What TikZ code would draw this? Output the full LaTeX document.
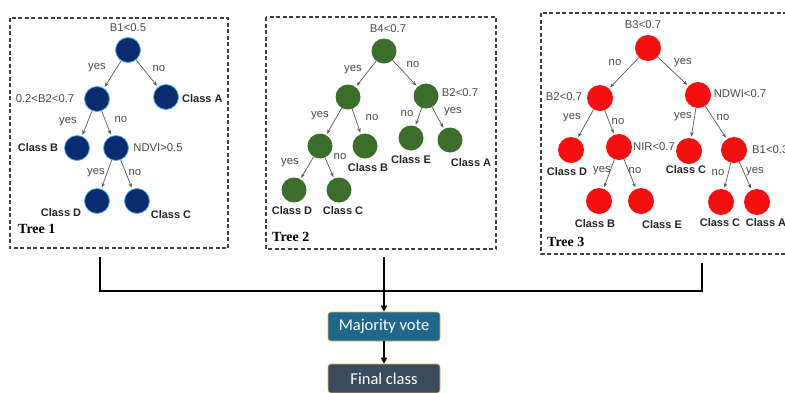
\documentclass[tikz,border=0pt]{standalone}
\usepackage{fontspec}
\setmainfont{Liberation Sans}
\newfontfamily\serifbold{Liberation Serif}
\newfontfamily\boxfont{Carlito}
\usetikzlibrary{arrows.meta}
\definecolor{navy}{HTML}{0A2C6E}
\definecolor{navyrim}{HTML}{4FB0F0}
\definecolor{tgreen}{HTML}{3B6E2B}
\definecolor{tred}{HTML}{F21010}
\definecolor{condgray}{HTML}{4A4A4A}
\definecolor{classdark}{HTML}{262626}
\definecolor{mvblue}{HTML}{1F688C}
\definecolor{fcslate}{HTML}{394B5F}
\definecolor{rimgold}{HTML}{E8B84A}
\tikzset{
  x=1pt, y=-1pt,
  tnode/.style={circle, inner sep=0pt},
  bluenode/.style={tnode, minimum size=25pt, fill=navy, draw=navyrim, line width=0.8pt},
  greennode/.style={tnode, minimum size=25pt, fill=tgreen},
  rednode/.style={tnode, minimum size=26pt, fill=tred},
  cond/.style={text=condgray, inner sep=0pt, font=\fontsize{11.3}{13}\selectfont},
  yn/.style={text=condgray, inner sep=0pt, font=\fontsize{11.3}{13}\selectfont},
  cls/.style={text=classdark, inner sep=0pt, font=\fontsize{11}{13}\selectfont\bfseries},
  treetitle/.style={inner sep=0pt, anchor=west, font=\fontsize{14}{16}\selectfont\serifbold\bfseries},
  edge/.style={draw=black!65, line width=0.7pt, -{Stealth[length=4.5pt,width=3.5pt]}, shorten >=1.5pt},
  treebox/.style={draw=black!75, dashed, dash pattern=on 4pt off 2.5pt, line width=1.1pt},
  bus/.style={draw=black, line width=1.6pt},
  busarrow/.style={bus, -{Triangle[length=6pt,width=6pt]}},
  stepbox/.style={rounded corners=3pt, draw=rimgold, line width=0.6pt, minimum width=112pt, minimum height=29pt, text=white, inner sep=0pt, font=\fontsize{16.5}{18}\selectfont\boxfont},
}
\begin{document}
\begin{tikzpicture}
\useasboundingbox (0,0) rectangle (785,392);
\clip (0,0) rectangle (785,392);
\fill[white] (0,0) rectangle (785,392);

% ---------- boxes ----------
\draw[treebox] (10,18) rectangle (228,248);
\draw[treebox] (266,17) rectangle (496,249);
\draw[treebox] (541,13) rectangle (800,254);

% ---------- Tree 1 ----------
\node[bluenode] (n1r) at (128,50) {};
\node[bluenode] (n1a) at (97,99) {};
\node[bluenode] (n1b) at (166,97) {};
\node[bluenode] (n1c) at (77,148) {};
\node[bluenode] (n1d) at (116,148) {};
\node[bluenode] (n1e) at (97,201) {};
\node[bluenode] (n1f) at (137,201) {};
\node[cond] (l1r) at (128,28) {B1<0.5};
\node[cond] (l1a) at (45,99) {0.2<B2<0.7};
\node[cls, anchor=west] (l1b) at (182,99) {Class A};
\node[cls] (l1c) at (38,148) {Class B};
\node[cond] (l1d) at (158,148) {NDVI>0.5};
\node[cls] (l1e) at (61,213) {Class D};
\node[cls] (l1f) at (171,215) {Class C};
\draw[edge] (n1r) -- (n1a);
\draw[edge] (n1r) -- (n1b);
\draw[edge] (n1a) -- (n1c);
\draw[edge] (n1a) -- (n1d);
\draw[edge] (n1d) -- (n1e);
\draw[edge] (n1d) -- (n1f);
\node[yn] (y1a) at (97,68) {yes};
\node[yn] (y1b) at (159,69) {no};
\node[yn] (y1c) at (68,122) {yes};
\node[yn] (y1d) at (121,120) {no};
\node[yn] (y1e) at (96,173) {yes};
\node[yn] (y1f) at (135,173) {no};
\node[treetitle] (t1) at (18,229) {Tree 1};

% ---------- Tree 2 ----------
\node[greennode] (n2r) at (384,51) {};
\node[greennode] (n2a) at (348,97) {};
\node[greennode] (n2b) at (426,96) {};
\node[greennode] (n2c) at (320,146) {};
\node[greennode] (n2d) at (365,146) {};
\node[greennode] (n2e) at (411,138) {};
\node[greennode] (n2f) at (450,140) {};
\node[greennode] (n2g) at (294,190) {};
\node[greennode] (n2h) at (339,190) {};
\node[cond] (l2r) at (388,29) {B4<0.7};
\node[cond] (l2b) at (460,93) {B2<0.7};
\node[cls] (l2d) at (368,168) {Class B};
\node[cls] (l2e) at (411,160) {Class E};
\node[cls] (l2f) at (471,163) {Class A};
\node[cls] (l2g) at (292,211) {Class D};
\node[cls] (l2h) at (343,211) {Class C};
\draw[edge] (n2r) -- (n2a);
\draw[edge] (n2r) -- (n2b);
\draw[edge] (n2a) -- (n2c);
\draw[edge] (n2a) -- (n2d);
\draw[edge] (n2b) -- (n2e);
\draw[edge] (n2b) -- (n2f);
\draw[edge] (n2c) -- (n2g);
\draw[edge] (n2c) -- (n2h);
\node[yn] (y2a) at (353,70) {yes};
\node[yn] (y2b) at (413,65) {no};
\node[yn] (y2c) at (320,116) {yes};
\node[yn] (y2d) at (372,118) {no};
\node[yn] (y2e) at (407,114) {no};
\node[yn] (y2f) at (453,112) {yes};
\node[yn] (y2g) at (290,163) {yes};
\node[yn] (y2h) at (340,157) {no};
\node[treetitle] (t2) at (272,237) {Tree 2};

% ---------- Tree 3 ----------
\node[rednode] (n3r) at (648,48) {};
\node[rednode] (n3a) at (600,98) {};
\node[rednode] (n3b) at (698,95) {};
\node[rednode] (n3c) at (571,150) {};
\node[rednode] (n3d) at (619,147) {};
\node[rednode] (n3e) at (689,151) {};
\node[rednode] (n3f) at (734,150) {};
\node[rednode] (n3g) at (599,201) {};
\node[rednode] (n3h) at (641,201) {};
\node[rednode] (n3i) at (721,202) {};
\node[rednode] (n3j) at (757,202) {};
\node[cond] (l3r) at (643,25) {B3<0.7};
\node[cond] (l3a) at (564,97) {B2<0.7};
\node[cond] (l3b) at (740,94) {NDWI<0.7};
\node[cls] (l3c) at (567,172) {Class D};
\node[cond] (l3d) at (654,147) {NIR<0.7};
\node[cls] (l3e) at (686,170) {Class C};
\node[cond, anchor=west] (l3f) at (752,150) {B1<0.3};
\node[cls] (l3g) at (595,224) {Class B};
\node[cls] (l3h) at (662,225) {Class E};
\node[cls] (l3i) at (720,223) {Class C};
\node[cls] (l3j) at (766,223) {Class A};
\draw[edge] (n3r) -- (n3a);
\draw[edge] (n3r) -- (n3b);
\draw[edge] (n3a) -- (n3c);
\draw[edge] (n3a) -- (n3d);
\draw[edge] (n3b) -- (n3e);
\draw[edge] (n3b) -- (n3f);
\draw[edge] (n3d) -- (n3g);
\draw[edge] (n3d) -- (n3h);
\draw[edge] (n3f) -- (n3i);
\draw[edge] (n3f) -- (n3j);
\node[yn] (y3a) at (615,63) {no};
\node[yn] (y3b) at (683,63) {yes};
\node[yn] (y3c) at (572,118) {yes};
\node[yn] (y3d) at (618,122) {no};
\node[yn] (y3e) at (683,117) {yes};
\node[yn] (y3f) at (723,118) {no};
\node[yn] (y3g) at (602,171) {yes};
\node[yn] (y3h) at (635,171) {no};
\node[yn] (y3i) at (718,173) {no};
\node[yn] (y3j) at (755,172) {yes};
\node[treetitle] (t3) at (547,242) {Tree 3};

% ---------- voting ----------
\node[stepbox, fill=mvblue] (mv) at (384,326.5) {Majority vote};
\node[stepbox, fill=fcslate] (fc) at (384,378.5) {Final class};
\coordinate (c1) at (100,257);
\coordinate (c2) at (384,257);
\coordinate (c3) at (702,263);
\draw[bus] (c1) -- ++(0,34) -| (c3);
\draw[busarrow] (c2) -- (mv.north);
\draw[busarrow] (mv.south) -- (fc.north);
\end{tikzpicture}
\end{document}
